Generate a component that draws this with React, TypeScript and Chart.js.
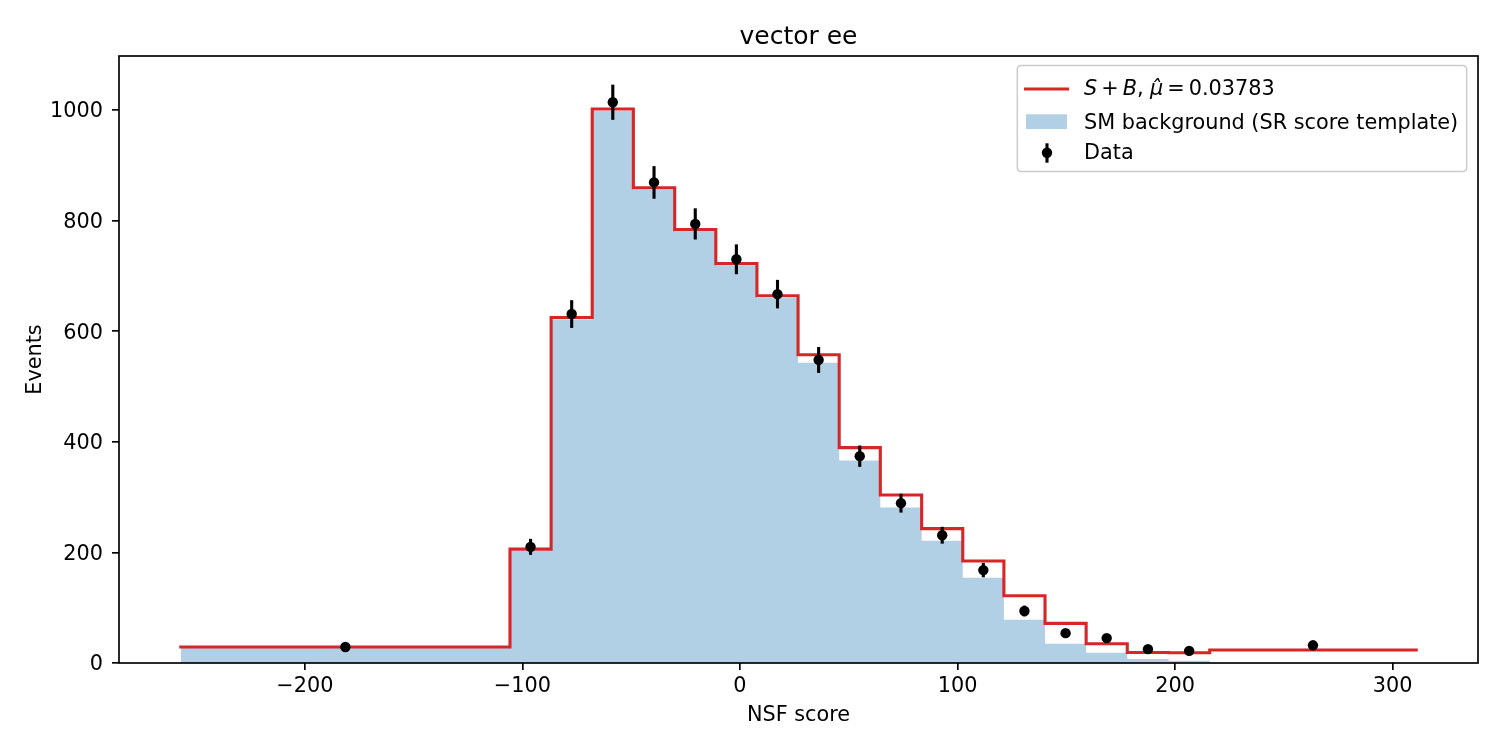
import React, { useEffect, useRef } from 'react';
import { Chart, registerables } from 'chart.js';

Chart.register(...registerables);

// ---- data ----
const binEdges = [-257.0, -105.7, -86.8, -67.9, -49.0, -30.0, -11.1, 7.8, 26.7, 45.6, 64.5, 83.5, 102.4, 121.3, 140.2, 159.1, 178.0, 197.0, 215.9, 310.8];
const sbValues = [28.9, 206, 624.7, 1001.8, 859.5, 783.6, 722.1, 664.2, 557.5, 389.4, 303.8, 242.9, 184.4, 121.7, 71.7, 34.9, 18.9, 18.5, 23.5];
const bkgValues = [27, 203, 621, 998, 856, 780, 718, 660, 543, 366, 281, 221, 154, 78, 35, 18.7, 7.2, 4.2, 0];
const dataCounts = [29, 210, 631, 1014, 869, 794, 730, 667, 548, 374, 289, 231, 168, 94, 54, 45, 25, 22, 32];
const dataErrors = [5.4, 14.5, 25.1, 31.8, 29.5, 28.2, 27.0, 25.8, 23.4, 19.3, 17.0, 15.2, 13.0, 9.7, 7.3, 6.7, 5.0, 4.7, 5.7];

const xTickValues = [-200, -100, 0, 100, 200, 300];
const xTickLabels = ['\u2212200', '\u2212100', '0', '100', '200', '300'];
const yTickValues = [0, 200, 400, 600, 800, 1000];
const yTickLabels = ['0', '200', '400', '600', '800', '1000'];

const titleText = 'vector ee';
const xLabel = 'NSF score';
const yLabel = 'Events';
const legendMu = '0.03783';
const legendBkg = 'SM background (SR score template)';
const legendData = 'Data';

const X_MIN = -285.4;
const X_MAX = 339.2;
const Y_MAX = 1097.6;

const FONT = 'DejaVu Sans';
const RED = '#d62728';
const BLUE_FILL = 'rgba(31,119,180,0.35)';

const binCenters = binEdges.slice(0, -1).map((e, i) => (e + binEdges[i + 1]) / 2);

function stepPoints(edges: number[], values: number[]) {
  const pts = edges.slice(0, -1).map((e, i) => ({ x: e, y: values[i] }));
  pts.push({ x: edges[edges.length - 1], y: values[values.length - 1] });
  return pts;
}

const errorBarPlugin = {
  id: 'errorBars',
  afterDatasetsDraw(chart: any) {
    const { ctx, scales } = chart;
    const x = scales.x;
    const y = scales.y;
    ctx.save();
    ctx.strokeStyle = '#000';
    ctx.lineWidth = 3.1;
    ctx.lineCap = 'butt';
    dataCounts.forEach((c, i) => {
      const px = x.getPixelForValue(binCenters[i]);
      ctx.beginPath();
      ctx.moveTo(px, y.getPixelForValue(c - dataErrors[i]));
      ctx.lineTo(px, y.getPixelForValue(c + dataErrors[i]));
      ctx.stroke();
    });
    ctx.restore();
  },
};

const decorPlugin = {
  id: 'decor',
  afterDraw(chart: any) {
    const { ctx, chartArea } = chart;
    const { left, top, right, bottom } = chartArea;
    ctx.save();
    // frame (spines)
    ctx.strokeStyle = '#000';
    ctx.lineWidth = 1.67;
    ctx.strokeRect(left, top, right - left, bottom - top);

    // title
    ctx.fillStyle = '#000';
    ctx.font = `25px "${FONT}"`;
    ctx.textAlign = 'center';
    ctx.textBaseline = 'alphabetic';
    ctx.fillText(titleText, (left + right) / 2, 43.5);

    // legend box
    const lx = 1017.3, ly = 65.5, lw = 449.4, lh = 106, r = 4;
    ctx.beginPath();
    ctx.moveTo(lx + r, ly);
    ctx.lineTo(lx + lw - r, ly);
    ctx.quadraticCurveTo(lx + lw, ly, lx + lw, ly + r);
    ctx.lineTo(lx + lw, ly + lh - r);
    ctx.quadraticCurveTo(lx + lw, ly + lh, lx + lw - r, ly + lh);
    ctx.lineTo(lx + r, ly + lh);
    ctx.quadraticCurveTo(lx, ly + lh, lx, ly + lh - r);
    ctx.lineTo(lx, ly + r);
    ctx.quadraticCurveTo(lx, ly, lx + r, ly);
    ctx.closePath();
    ctx.fillStyle = 'rgba(255,255,255,0.8)';
    ctx.fill();
    ctx.strokeStyle = '#cccccc';
    ctx.lineWidth = 1.5;
    ctx.stroke();

    // row 1: S+B line
    ctx.strokeStyle = RED;
    ctx.lineWidth = 3.1;
    ctx.lineCap = 'square';
    ctx.beginPath();
    ctx.moveTo(1025.5, 89);
    ctx.lineTo(1067.5, 89);
    ctx.stroke();

    ctx.fillStyle = '#000';
    ctx.textAlign = 'left';
    const reg = `20.8px "${FONT}"`;
    const ita = `oblique 20.8px "${FONT}"`;
    const pieces: [string, string, number][] = [
      ['S', ita, 0],
      ['+', reg, 4],
      ['B', ita, 4],
      [',', reg, 0],
      ['\u03bc\u0302', ita, 6.5],
      ['=', reg, 4],
      [legendMu, reg, 4],
    ];
    let cx = 1084;
    const base1 = 95;
    pieces.forEach(([t, f, gap]) => {
      cx += gap;
      ctx.font = f;
      ctx.fillText(t, cx, base1);
      cx += ctx.measureText(t).width;
    });

    // row 2: background patch
    ctx.fillStyle = BLUE_FILL;
    ctx.fillRect(1026, 114.3, 41, 14.7);
    ctx.fillStyle = '#000';
    ctx.font = reg;
    ctx.fillText(legendBkg, 1084, 128.8);

    // row 3: data marker
    ctx.strokeStyle = '#000';
    ctx.lineWidth = 3.1;
    ctx.lineCap = 'butt';
    ctx.beginPath();
    ctx.moveTo(1047, 143.3);
    ctx.lineTo(1047, 162.7);
    ctx.stroke();
    ctx.beginPath();
    ctx.arc(1047, 152.7, 5.2, 0, Math.PI * 2);
    ctx.fill();
    ctx.fillText(legendData, 1084, 159.3);
    ctx.restore();
  },
};

export default function App() {
  const canvasRef = useRef<HTMLCanvasElement | null>(null);

  useEffect(() => {
    const canvas = canvasRef.current;
    if (!canvas) return;
    const chart = new Chart(canvas, {
      type: 'line',
      data: {
        datasets: [
          {
            label: 'Data',
            data: binCenters.map((c, i) => ({ x: c, y: dataCounts[i] })),
            showLine: false,
            pointRadius: 5.2,
            pointBackgroundColor: '#000',
            pointBorderColor: '#000',
            pointBorderWidth: 0,
            order: 0,
          },
          {
            label: 'S+B',
            data: stepPoints(binEdges, sbValues),
            stepped: 'before',
            borderColor: RED,
            borderWidth: 3.1,
            borderCapStyle: 'square',
            borderJoinStyle: 'miter',
            pointRadius: 0,
            fill: false,
            order: 1,
          },
          {
            label: 'SM background (SR score template)',
            data: stepPoints(binEdges, bkgValues),
            stepped: 'before',
            borderColor: 'transparent',
            borderWidth: 0,
            backgroundColor: BLUE_FILL,
            pointRadius: 0,
            fill: 'origin',
            order: 2,
          },
        ],
      },
      options: {
        animation: false,
        responsive: false,
        devicePixelRatio: 1,
        events: [],
        layout: { padding: { left: 0, right: 22, top: 56, bottom: 0 } },
        plugins: {
          legend: { display: false },
          tooltip: { enabled: false },
          title: { display: false },
        },
        scales: {
          x: {
            type: 'linear',
            min: X_MIN,
            max: X_MAX,
            afterBuildTicks: (axis: any) => {
              axis.ticks = xTickValues.map((v) => ({ value: v }));
            },
            afterFit: (axis: any) => {
              axis.height = 87;
            },
            border: { display: false },
            grid: {
              drawOnChartArea: false,
              drawTicks: true,
              tickLength: 7,
              color: '#000',
              lineWidth: 1.67,
            },
            ticks: {
              color: '#000',
              font: { family: FONT, size: 20.8 },
              padding: 4.3,
              maxRotation: 0,
              autoSkip: false,
              callback: (v: any) => {
                const i = xTickValues.indexOf(Number(v));
                return i >= 0 ? xTickLabels[i] : '';
              },
            },
            title: {
              display: true,
              text: xLabel,
              color: '#000',
              font: { family: FONT, size: 20.8 },
              padding: { top: 0, bottom: 21.5 },
            },
          },
          y: {
            type: 'linear',
            min: 0,
            max: Y_MAX,
            afterBuildTicks: (axis: any) => {
              axis.ticks = yTickValues.map((v) => ({ value: v }));
            },
            afterFit: (axis: any) => {
              axis.width = 119;
            },
            border: { display: false },
            grid: {
              drawOnChartArea: false,
              drawTicks: true,
              tickLength: 7,
              color: '#000',
              lineWidth: 1.67,
            },
            ticks: {
              color: '#000',
              font: { family: FONT, size: 20.8 },
              padding: 9,
              labelOffset: 2,
              autoSkip: false,
              callback: (v: any) => {
                const i = yTickValues.indexOf(Number(v));
                return i >= 0 ? yTickLabels[i] : '';
              },
            },
            title: {
              display: true,
              text: yLabel,
              color: '#000',
              font: { family: FONT, size: 20.8 },
              padding: { top: 23, bottom: 0 },
            },
          },
        },
      },
      plugins: [errorBarPlugin, decorPlugin],
    } as any);
    return () => {
      chart.destroy();
    };
  }, []);

  return (
    <div style={{ position: 'absolute', left: 0, top: 0, width: 1500, height: 750, background: '#fff' }}>
      <canvas ref={canvasRef} width={1500} height={750} style={{ width: 1500, height: 750, display: 'block' }} />
    </div>
  );
}
